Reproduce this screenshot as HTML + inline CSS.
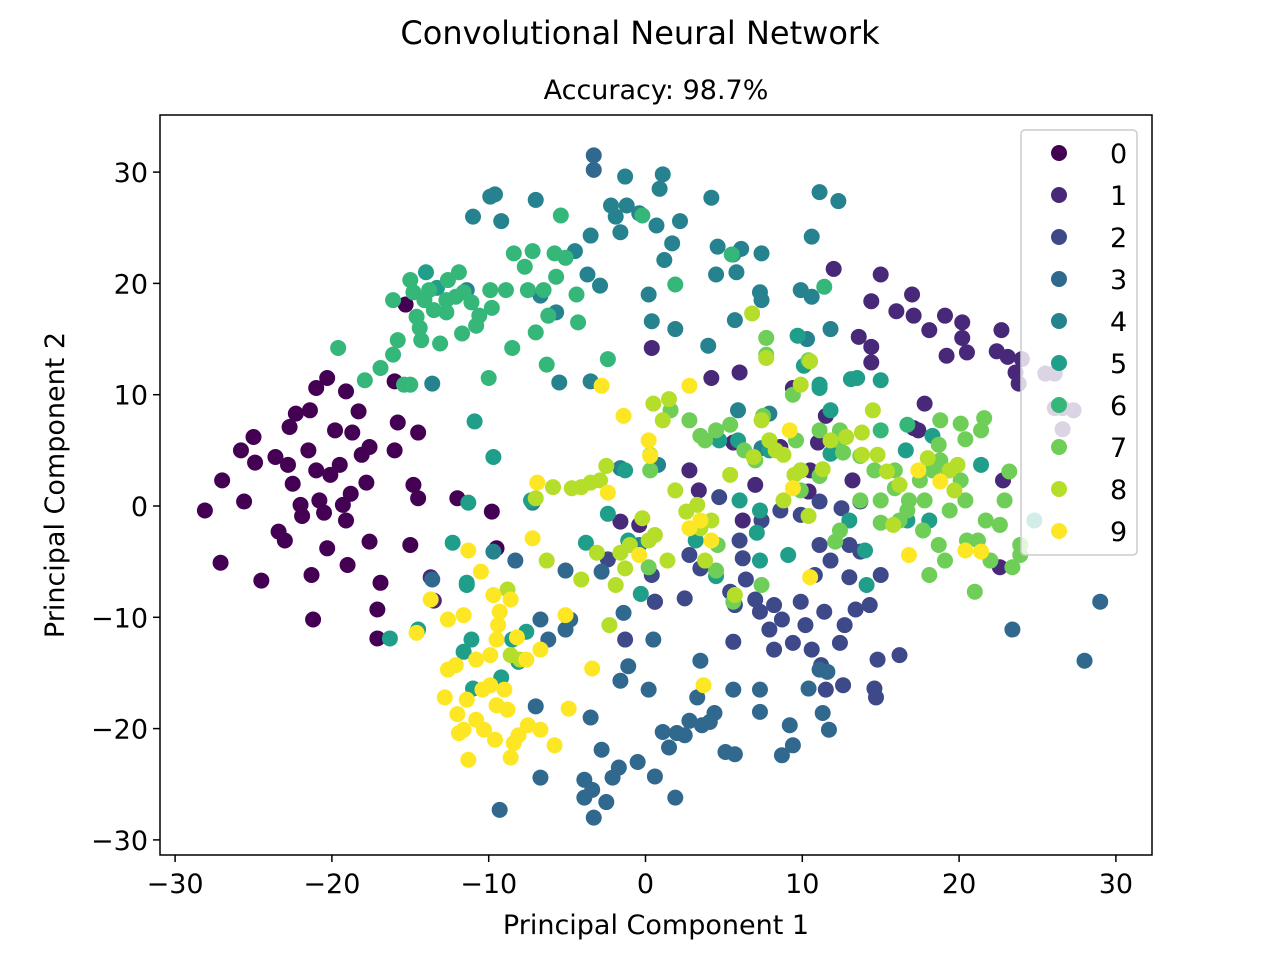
<!DOCTYPE html>
<html><head><meta charset="utf-8">
<style>
html,body{margin:0;padding:0;background:#fff;}
svg{display:block;font-family:"DejaVu Sans","Liberation Sans",sans-serif;}
</style></head>
<body>
<svg id="chart" width="1280" height="960" viewBox="0 0 1280 960">
<rect width="1280" height="960" fill="#fff"/>
<text x="640" y="44" text-anchor="middle" font-size="32" fill="#000">Convolutional Neural Network</text>
<text x="656" y="99" text-anchor="middle" font-size="27" fill="#000">Accuracy: 98.7%</text>
<g id="points"></g>
<g id="axes"></g>
<g id="legend"></g>
<text x="656" y="934" text-anchor="middle" font-size="27" fill="#000">Principal Component 1</text>
<text transform="translate(64,485) rotate(-90)" text-anchor="middle" font-size="27" fill="#000">Principal Component 2</text>
</svg>
<script>
const classLabels=["0","1","2","3","4","5","6","7","8","9"];
const classColors=["#440154","#482878","#3e4989","#31688e","#26828e","#1f9e89","#35b779","#6ece58","#b5de2b","#fde725"];
const xTicks=[-30,-20,-10,0,10,20,30];
const yTicks=[-30,-20,-10,0,10,20,30];
const class0=[[-28.1,-0.4],[-27.1,-5.1],[-27,2.3],[-25.8,5],[-25,6.2],[-25.6,0.4],[-24.9,3.9],[-24.5,-6.7],[-23.6,4.4],[-23.4,-2.3],[-23,-3.1],[-22.7,7.1],[-22.3,8.3],[-22.8,3.7],[-22.5,2],[-22,0.1],[-21.9,-0.9],[-21.5,5],[-21.4,8.6],[-21.3,-6.2],[-21.2,-10.2],[-21,10.6],[-21,3.2],[-20.8,0.5],[-20.5,-0.6],[-20.3,11.5],[-20.3,-3.8],[-20.1,2.8],[-19.8,6.8],[-19.5,3.7],[-19.3,0.1],[-19.1,-1.3],[-19.1,10.3],[-19,-5.3],[-18.8,1.1],[-18.7,6.6],[-18.3,8.5],[-18.1,4.6],[-17.8,2.1],[-17.6,5.3],[-17.6,-3.2],[-17.1,-9.3],[-16.9,-6.9],[-17.1,-11.9],[-16,5],[-15.8,7.5],[-15.3,18.1],[-15,-3.5],[-14.8,1.9],[-14.5,0.7],[-14.5,6.6],[-12,0.7],[-9.8,-0.5],[-9.5,-3.8],[-16,11.2]];
const class1=[[0.4,14.2],[4.2,11.5],[6,12],[12,21.3],[14.4,18.4],[15,20.8],[13.6,15.2],[14.4,14.3],[14.4,12.9],[16,17.5],[17,19],[17.1,17.1],[18.1,15.8],[19.1,17.1],[19.2,13.5],[20.2,16.5],[20.2,15.1],[20.5,13.8],[22.7,15.8],[22.4,13.9],[23.1,13.4],[23.6,12],[23.8,11],[24,13.2],[25.5,11.9],[26.1,11.9],[26.1,8.8],[26.6,8.8],[27.3,8.6],[26.6,6.9],[17.8,9.2],[17.1,7],[17.4,6.8],[11.5,8.1],[11,5.7],[10.4,1.3],[5.6,5.7],[3.4,1.4],[2.8,3.2],[8.6,5.3],[-0.4,-1.7],[0.6,-8.6],[-1.6,-1.4],[-13.7,-6.4],[-13.5,-8.5],[7,1.9],[6.2,-1.3],[9.4,10.6],[22.8,2.3],[22.6,-5.5],[13.2,2.3],[10.5,3.2]];
const class2=[[8.6,-0.4],[6,-3.1],[6.2,-4.7],[6.4,-6.6],[5.4,-7.7],[5.6,-12.2],[7,-8.4],[7.3,-9.5],[8.2,-8.9],[8.7,-10.2],[7.9,-11.1],[8.2,-12.9],[9.4,-12.3],[9.9,-8.6],[10.2,-10.7],[10.6,-12.9],[11.4,-9.5],[11.2,-14.3],[11.5,-16.5],[12.4,-12.3],[12.7,-10.7],[13,-6.4],[13,-3.5],[13.4,-9.3],[14.3,-8.9],[15,-6.2],[14.8,-13.8],[14.6,-16.4],[16.2,-13.4],[14.7,-17.2],[11.1,-3.5],[11.8,-4.9],[13.7,-4.1],[12.5,-0.2],[3.5,-5.6],[2.8,-4.4],[2.5,-8.3],[0.6,-8.6],[0.4,-6.2],[-1.3,-12],[-2.4,-4.8],[4.7,0.8],[7.4,-1.3],[9.9,-0.8],[11.1,0.4],[13.7,0.4],[5.7,-8.9],[12.6,-16.1],[10.8,-6.2]];
const class3=[[-3.3,31.5],[-3.3,30.2],[-3.9,-24.6],[-3.4,-25.5],[-3.3,-28],[-2.5,-26.6],[-3.5,-19],[-3.9,-26.2],[-2.8,-21.9],[-2.1,-24.4],[-1.7,-23.5],[-0.5,-23],[0.6,-24.3],[1.1,-20.3],[2,-20.4],[1.5,-21.7],[1.9,-26.2],[2.5,-20.6],[2.8,-19.3],[3.3,-17.2],[3.5,-13.9],[3.6,-19.7],[4.4,-18.6],[4.1,-19.4],[5.1,-22.1],[5.7,-22.3],[5.6,-16.5],[7.3,-16.5],[7.3,-18.5],[8.7,-22.4],[9.4,-21.5],[9.2,-19.7],[10.4,-16.4],[11.1,-14.7],[11.3,-18.6],[11.7,-20.1],[11.6,-14.9],[0.2,-16.5],[-1.1,-14.4],[-1.6,-15.7],[0.5,-12],[-1.4,-9.6],[-6.7,-24.4],[-7,-18],[-9.3,-27.3],[-6.2,-12],[-4.8,-10.2],[-5.1,-11.1],[29,-8.6],[28,-13.9],[23.4,-11.1],[-6.7,-10.2],[-2.8,-5.9],[-5.1,-5.8],[-8.3,-4.9],[-13.6,-6.6]];
const class4=[[-11,26],[-9.9,27.8],[-9.6,28],[-9.2,25.6],[-7,27.5],[-6.7,18.9],[-5.7,17.4],[-4.5,22.9],[-3.7,20.8],[-2.9,19.8],[-3.5,24.3],[-2.2,27],[-1.9,26],[-1.3,29.6],[-1.6,24.6],[-1.2,27],[-0.4,26.3],[0.2,19],[0.4,16.6],[0.9,28.5],[1.1,29.8],[0.7,25.2],[1.2,22.1],[1.7,23.6],[1.9,15.9],[2.2,25.6],[4,14.4],[4.2,27.7],[4.5,20.8],[4.6,23.3],[5.6,22.6],[5.8,21],[6.1,23.1],[5.7,16.7],[7.3,19.2],[7.4,22.7],[7.4,18.5],[9.9,19.4],[10.6,18.8],[10.6,24.2],[11.1,28.2],[12.3,27.4],[11.8,15.9],[10.3,15],[7.9,8.3],[7.4,5.2],[5.9,8.6],[-0.4,-3.5],[0.8,3.7],[-7.2,0.3],[-9.7,-4.1],[-13.6,11],[-1.6,3.4],[-5.5,11.1],[-3.5,11.2],[-11.4,19.4]];
const class5=[[-14,21],[-13.3,19.6],[-10.9,7.6],[-9.7,4.4],[-11.3,0.3],[-11.4,-7.1],[-11.1,-12],[-11,-16.4],[-9.2,-15.4],[-8.5,-12],[-7.6,-11.3],[-8.1,-14],[-11.6,-13.1],[-16.3,-11.9],[-14.5,-11.1],[-12.3,-3.3],[-11.4,-6.9],[-7.3,0.5],[-3.8,-3.3],[-1.3,3.2],[-2.4,-0.7],[-1.1,-3.1],[-0.3,-7.9],[3.2,-3.1],[4.5,-6.3],[7.3,-4.9],[9.1,-4.4],[7.1,-2.4],[7.3,-0.4],[7.9,5],[6,0.5],[9.9,3.2],[11.1,10.9],[13.1,11.4],[13.5,11.5],[15,11.3],[9.7,15.3],[10.1,12.6],[11.1,10.6],[11.8,4.7],[13,-1.3],[14.1,-7.1],[14,-4],[16.7,-1.3],[18.1,-1.3],[24.8,-1.3],[18.3,6.3],[21.4,3.7],[16.6,5],[11.8,8.6],[4.7,5.9],[5.9,5.9]];
const class6=[[-19.6,14.2],[-17.9,11.3],[-16.9,12.4],[-16.1,18.5],[-16.1,13.6],[-15.8,14.9],[-15,20.3],[-14.8,19.2],[-14.6,17],[-14.4,16],[-14.3,14.9],[-14.1,18.5],[-13.8,19.4],[-13.5,17.6],[-13.1,14.6],[-12.7,18.5],[-12.6,20.3],[-12.7,17.4],[-12.1,18.8],[-11.9,21],[-11.6,19.2],[-11.1,18.3],[-10.6,17.1],[-10.8,16.2],[-9.9,19.4],[-9.8,17.8],[-8.9,19.4],[-8.5,14.2],[-8.4,22.7],[-7.7,21.5],[-7.2,22.9],[-7.5,19.4],[-7,15.6],[-6.5,19.4],[-6.2,17.1],[-5.8,22.7],[-5.4,26.1],[-5.7,20.6],[-5.1,22.3],[-4.3,16.5],[-4.4,19],[-6.3,12.7],[-10,11.5],[-11.7,15.5],[-15.4,10.9],[-15,10.9],[-0.2,26.1],[1.9,19.9],[-2.4,13.2],[5.5,22.6],[11.4,19.7],[15,6.8],[16.7,7.3]];
const class7=[[0.3,3.2],[1.6,8.6],[2.8,7.7],[3.5,6.3],[4.5,6.8],[5.4,7.3],[6.3,5],[7,4.1],[7.5,8.1],[7.9,5.9],[9.4,10],[7.7,15.1],[7.7,13.6],[10.4,13.1],[11.1,6.8],[12.3,5.9],[12.4,6.8],[12.6,4.8],[13.7,4.5],[14.6,3.2],[15,0.5],[15.9,3.2],[16.2,-1.3],[16.8,0.5],[17.8,0.5],[17.5,2.3],[18.3,3.2],[18.7,5.5],[18.8,4.1],[19.3,3.2],[19.4,-0.4],[20.1,2.3],[20.4,6],[20.4,0.5],[21.4,6.8],[21.6,7.9],[21.2,-3.1],[22,-4.9],[22.9,0.5],[23.4,-5.5],[23.9,-3.5],[23.9,-4.4],[18.7,-3.5],[18.1,-6.2],[19.1,-4.9],[21,-7.7],[17.7,-2.2],[20.5,-3.1],[21.7,-1.3],[22.6,-1.7],[23.2,3.1],[18.8,7.7],[20.1,7.4],[15.9,1.6],[16.7,-0.4],[15,-1.5],[12.4,-2.2],[12.1,-3.2],[7.4,-7.1],[5.6,-8.6],[4.6,-3.5],[4.5,-5.8],[0.2,-5.5],[3.8,5.9],[9.6,5.9],[11.1,2.7],[9.9,1.4],[13.7,0.5]];
const class8=[[6.8,17.3],[7.7,13.3],[9.9,10.9],[10.5,13],[0.5,9.2],[1.5,9.6],[1.1,7.7],[0.3,4.6],[0.6,-2.6],[0.2,-3.1],[-1.6,-4.2],[-1.3,-5.6],[-3.1,-4.2],[-2.5,3.6],[-2.9,2.3],[-3.5,2.1],[-4.1,1.7],[-4.7,1.6],[-5.9,1.7],[-7,0.7],[-6.3,-4.9],[-4.1,-6.6],[-2.3,-10.7],[1.9,1.4],[2.6,-0.5],[3.3,0.1],[3.5,-2],[4.2,-1.3],[5.4,2.8],[6.9,4.4],[7.9,5.9],[8.8,4.6],[9.9,3.2],[8.8,0.5],[9.5,2.8],[11.3,3.3],[10.4,-0.9],[11.8,5.9],[12.8,6.2],[13.8,6.6],[14.5,8.6],[13.8,4.6],[14.8,4.6],[15.4,3.1],[15.8,-1.7],[16.2,1.9],[18,4.3],[19.4,3.2],[19.7,1.4],[19.9,3.7],[5.7,-8],[3.8,-4.9],[1.4,-4.9],[-0.2,-1.1],[-1,-3.5],[-1.9,-7.1],[-8.8,-7.5],[-8.6,-13.4],[-8,-13.8],[7.4,7.7],[8.3,5]];
const class9=[[-2.8,10.8],[-1.4,8.1],[0.2,5.9],[0.3,4.5],[2.8,10.8],[2.8,-2],[3.5,-1.3],[3.7,-16.1],[4.2,-3.1],[-0.4,-4.4],[-2.4,1.2],[-6.9,2.1],[-7.2,-2.9],[-5.1,-9.8],[-4.9,-18.2],[-3.4,-14.6],[-5.8,-21.5],[-6.7,-20.1],[-7.5,-19.7],[-8.1,-20.6],[-8.4,-21.3],[-8.6,-22.6],[-9.6,-21],[-10.3,-20.1],[-10.8,-19.2],[-11.3,-22.8],[-11.6,-20.1],[-11.9,-20.4],[-11.4,-17.4],[-10.4,-16.5],[-9.9,-16.1],[-9.5,-17.9],[-8.8,-18.3],[-9,-16.5],[-12.8,-17.2],[-12.1,-14.3],[-12.6,-14.7],[-10.8,-13.8],[-9.9,-13.4],[-9.5,-12],[-9.4,-10.7],[-9.3,-9.5],[-8.6,-8.4],[-9.7,-8],[-10.5,-5.9],[-11.3,-4],[-11.6,-9.8],[-12.6,-10.2],[-13.7,-8.4],[-14.6,-11.4],[-7.6,-13.8],[-6.7,-12.9],[-8.2,-11.8],[10.5,-6.4],[9.4,1.6],[9.2,6.8],[17.4,3.2],[16.8,-4.4],[18.8,2.2],[20.4,-4],[21.4,-4.1],[-12,-18.7]];
const allSeries=[class0,class1,class2,class3,class4,class5,class6,class7,class8,class9];

const NS="http://www.w3.org/2000/svg";
const plotL=160,plotR=1152,plotT=115,plotB=855;
function xScale(v){return 645.5+v*15.68;}
function yScale(v){return 506-v*11.13;}
function mk(tag,attrs,parent){const e=document.createElementNS(NS,tag);for(const k in attrs)e.setAttribute(k,attrs[k]);parent.appendChild(e);return e;}

const pts=document.getElementById('points');
allSeries.forEach((s,ci)=>{
  s.forEach((p,i)=>{
    const c=mk('circle',{cx:xScale(p[0]),cy:yScale(p[1]),r:8,fill:classColors[ci]},pts);
    
    
  });
});

const axes=document.getElementById('axes');
const frame=mk('rect',{x:plotL,y:plotT,width:plotR-plotL,height:plotB-plotT,fill:'none',stroke:'#000','stroke-width':1.5},axes);


xTicks.forEach(t=>{
  const x=xScale(t);
  const l=mk('line',{x1:x,x2:x,y1:plotB,y2:plotB+7,stroke:'#000','stroke-width':1.5},axes);
  
  
  const tx=mk('text',{x:x,y:plotB+38,'text-anchor':'middle','font-size':27,fill:'#000'},axes);
  tx.textContent=(t<0?'\u2212'+Math.abs(t):''+t);
  
  
});
yTicks.forEach(t=>{
  const y=yScale(t);
  const l=mk('line',{x1:plotL-7,x2:plotL,y1:y,y2:y,stroke:'#000','stroke-width':1.5},axes);
  
  
  const tx=mk('text',{x:plotL-12,y:y+10,'text-anchor':'end','font-size':27,fill:'#000'},axes);
  tx.textContent=(t<0?'\u2212'+Math.abs(t):''+t);
  
  
});

const leg=document.getElementById('legend');
const box=mk('rect',{x:1021,y:130,width:116,height:425,rx:4,fill:'#fff','fill-opacity':0.8,stroke:'#ccc','stroke-width':1.5},leg);


classLabels.forEach((lab,i)=>{
  const y=153+i*42;
  const g=mk('g',{},leg);
  
  
  mk('circle',{cx:1059,cy:y,r:8,fill:classColors[i]},g);
  const t=mk('text',{x:1110,y:y+10,'font-size':27,fill:'#000'},g);
  t.textContent=lab;
});
</script>
</body></html>
